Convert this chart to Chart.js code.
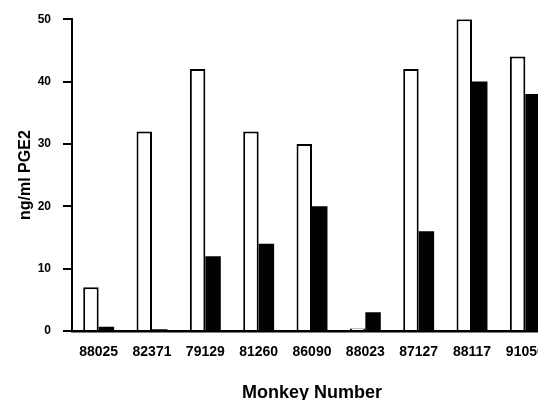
<!DOCTYPE html>
<html>
<head>
<meta charset="utf-8">
<script src="https://cdn.jsdelivr.net/npm/chart.js@4/dist/chart.umd.min.js"></script>
<style>
  html, body { margin: 0; padding: 0; background: #fff; overflow: hidden; }
  #wrap { width: 552px; height: 400px; }
</style>
</head>
<body>
<div id="wrap"><canvas id="pgeChart" width="552" height="400"></canvas></div>
<script>
// monkey ids along the x axis
const monkeys = ['88025', '82371', '79129', '81260', '86090', '88023', '87127', '88117', '91050'];
// open bars and filled bars (ng/ml PGE2)
const openValues = [7, 32, 42, 32, 30, 0.4, 42, 50, 44];
const filledValues = [0.7, 0.3, 12, 14, 20, 3, 16, 40, 38];
const yTicks = [0, 10, 20, 30, 40, 50];

const font = 'Liberation Sans, Arial, sans-serif';

const ctx = document.getElementById('pgeChart').getContext('2d');
const chart = new Chart(ctx, {
  type: 'bar',
  data: {
    labels: monkeys,
    datasets: [{
      data: openValues,
      backgroundColor: '#fff',
      borderColor: '#000',
      borderWidth: 2
    }, {
      data: filledValues,
      backgroundColor: '#000',
      borderColor: '#000',
      borderWidth: 0
    }]
  },
  options: {
    responsive: false,
    animation: false,
    layout: { padding: { top: 19, left: 0, right: 0, bottom: 0 } },
    categoryPercentage: 0.58,
    barPercentage: 1,
    plugins: {
      legend: { display: false },
      tooltip: { enabled: false }
    },
    scales: {
      x: {
        afterFit: axis => { axis.height = 69; },
        // invisible ticks just to keep the gap under the axis
        grid: { display: true, drawOnChartArea: false, drawTicks: true, tickLength: 8, color: 'rgba(0,0,0,0)' },
        border: { display: true, color: '#000', width: 2.5 },
        ticks: {
          color: '#000',
          padding: 5,
          font: { family: font, size: 14, weight: 'bold' }
        },
        title: {
          display: true,
          text: 'Monkey Number',
          color: '#000',
          font: { family: font, size: 18, weight: 'bold' },
          padding: { top: 0, bottom: -3.5 }
        }
      },
      y: {
        min: 0,
        max: 50,
        afterFit: axis => { axis.width = 72; },
        afterBuildTicks: axis => { axis.ticks = yTicks.map(v => ({ value: v })); },
        grid: {
          drawOnChartArea: false,
          drawTicks: true,
          tickLength: 9,
          color: '#000',
          lineWidth: 2
        },
        border: { display: true, color: '#000', width: 2 },
        ticks: {
          color: '#000',
          padding: 12,
          font: { family: font, size: 12, weight: 'bold' }
        },
        title: {
          display: true,
          text: 'ng/ml PGE2',
          color: '#000',
          font: { family: font, size: 16, weight: 'bold' },
          padding: { top: 16, bottom: 0 }
        }
      }
    }
  }
});
</script>
</body>
</html>
